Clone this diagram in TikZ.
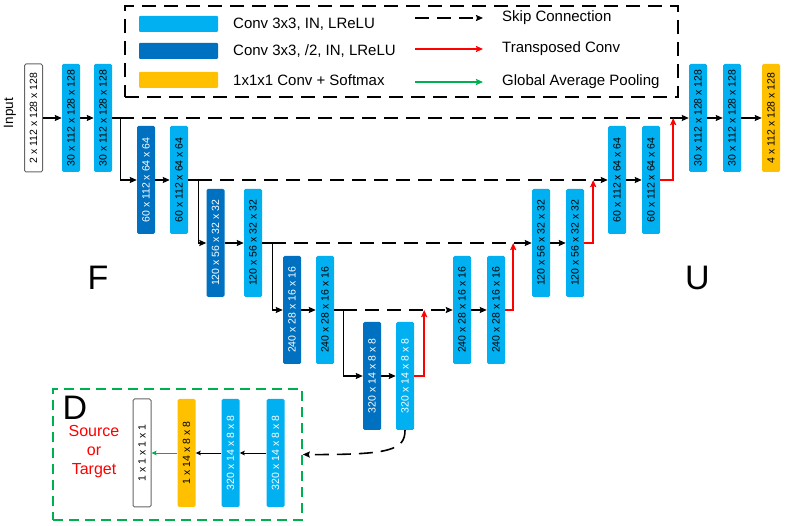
\documentclass[tikz,border=0pt]{standalone}
\usepackage{fontspec}
\setmainfont{Liberation Sans}
\usepackage{graphicx}
\usetikzlibrary{arrows.meta}
\tikzstyle{every picture}=[>={Stealth[length=7pt,width=6pt,inset=1pt]},x=1pt,y=-1pt]
\definecolor{convlight}{RGB}{0,176,240}
\definecolor{convdark}{RGB}{0,112,192}
\definecolor{softyel}{RGB}{255,192,0}
\definecolor{poolgreen}{RGB}{0,176,80}
\definecolor{upred}{RGB}{255,0,0}
\newcommand{\sidetxt}[1]{\rotatebox{90}{#1}}
\tikzset{
  blk/.style={rectangle,rounded corners=1.5pt,minimum width=18pt,minimum height=108pt,
    inner sep=0pt,font=\fontsize{10.5}{12}\selectfont},
  lconv/.style={blk,fill=convlight},
  dconv/.style={blk,fill=convdark,text=white},
  soft/.style={blk,fill=softyel},
  inbox/.style={blk,draw=black!60,fill=white,line width=1pt},
  flow/.style={->,line width=1.4pt},
  skip/.style={->,line width=1.6pt,dash pattern=on 14pt off 8pt},
  upconv/.style={->,line width=1.6pt,upred},
  dflow/.style={-{Stealth[length=5pt,width=4.5pt,inset=0.8pt]},line width=0.8pt},
  swatch/.style={rectangle,rounded corners=1pt,minimum width=79pt,minimum height=16pt,inner sep=0pt},
  legtext/.style={anchor=west,inner sep=0pt,font=\fontsize{15}{18}\selectfont},
  bigletter/.style={inner sep=0pt,font=\fontsize{34}{38}\selectfont}
}

\begin{document}
\begin{tikzpicture}
    \useasboundingbox (0,0) rectangle (785,526);

    % legend
    \node[draw,line width=1.6pt,dash pattern=on 14pt off 8pt,minimum width=553pt,minimum height=91pt] (leg) at (401.5,51.5) {};
    \node[swatch,fill=convlight] (sw1) at (178.5,24) {};
    \node[swatch,fill=convdark] (sw2) at (178.5,51) {};
    \node[swatch,fill=softyel] (sw3) at (178.5,80) {};
    \node[legtext] (lt1) at (233,24) {Conv 3x3, IN, LReLU};
    \node[legtext] (lt2) at (233,51) {Conv 3x3, /2, IN, LReLU};
    \node[legtext] (lt3) at (233,80) {1x1x1 Conv + Softmax};
    \coordinate (la1) at (415,18);  \coordinate (lb1) at (483,18);
    \coordinate (la2) at (415,49);  \coordinate (lb2) at (483,49);
    \coordinate (la3) at (415,82);  \coordinate (lb3) at (483,82);
    \draw[skip] (la1) -- (lb1);
    \draw[upconv] (la2) -- (lb2);
    \draw[->,line width=1.6pt,poolgreen] (la3) -- (lb3);
    \node[legtext] (lt4) at (502,18) {Skip Connection};
    \node[legtext] (lt5) at (502,49) {Transposed Conv};
    \node[legtext] (lt6) at (502,82) {Global Average Pooling};

    % encoder
    \node[font=\fontsize{13.5}{16}\selectfont] (inlbl) at (10,113) {\sidetxt{Input}};
    \node[inbox] (inp) at (33.5,118) {\sidetxt{2 x 112 x 128 x 128}};
    \node[lconv] (e1a) at (71,118) {\sidetxt{30 x 112 x 128 x 128}};
    \node[lconv] (e1b) at (103,118) {\sidetxt{30 x 112 x 128 x 128}};
    \node[dconv] (e2a) at (146,180) {\sidetxt{60 x 112 x 64 x 64}};
    \node[lconv] (e2b) at (179,180) {\sidetxt{60 x 112 x 64 x 64}};
    \node[dconv] (e3a) at (215.5,243) {\sidetxt{120 x 56 x 32 x 32}};
    \node[lconv] (e3b) at (253,243) {\sidetxt{120 x 56 x 32 x 32}};
    \node[dconv] (e4a) at (292,310) {\sidetxt{240 x 28 x 16 x 16}};
    \node[lconv] (e4b) at (325,310) {\sidetxt{240 x 28 x 16 x 16}};
    \node[dconv] (e5a) at (372,376) {\sidetxt{320 x 14 x 8 x 8}};
    \node[lconv,text=white] (e5b) at (405,376) {\sidetxt{320 x 14 x 8 x 8}};

    % decoder
    \node[lconv] (d4a) at (462,310) {\sidetxt{240 x 28 x 16 x 16}};
    \node[lconv] (d4b) at (496,310) {\sidetxt{240 x 28 x 16 x 16}};
    \node[lconv] (d3a) at (541,243) {\sidetxt{120 x 56 x 32 x 32}};
    \node[lconv] (d3b) at (575,243) {\sidetxt{120 x 56 x 32 x 32}};
    \node[lconv] (d2a) at (617,180) {\sidetxt{60 x 112 x 64 x 64}};
    \node[lconv] (d2b) at (651,180) {\sidetxt{60 x 112 x 64 x 64}};
    \node[lconv] (d1a) at (698,118) {\sidetxt{30 x 112 x 128 x 128}};
    \node[lconv] (d1b) at (732,118) {\sidetxt{30 x 112 x 128 x 128}};
    \node[soft] (outp) at (771,118) {\sidetxt{4 x 112 x 128 x 128}};

    \node[bigletter] (flbl) at (98,277.5) {F};
    \node[bigletter] (ulbl) at (697.5,277.5) {U};

    % down path and skips
    \draw[flow] (inp) -- (e1a);
    \draw[flow] (e1a) -- (e1b);
    \draw[flow] (e1b.east) -- ++(8,0) coordinate (j1) |- (e2a.west);
    \draw[skip] (j1) -- (d1a.west);
    \draw[flow] (e2a) -- (e2b);
    \draw[flow] (e2b.east) -- ++(10,0) coordinate (j2) |- (e3a.west);
    \draw[skip] (j2) -- (d2a.west);
    \draw[flow] (e3a) -- (e3b);
    \draw[flow] (e3b.east) -- ++(10,0) coordinate (j3) |- (e4a.west);
    \draw[skip] (j3) -- (d3a.west);
    \draw[flow] (e4a) -- (e4b);
    \draw[flow] (e4b.east) -- ++(9,0) coordinate (j4) |- (e5a.west);
    \draw[skip] (j4) -- (d4a.west);
    \draw[flow] (e5a) -- (e5b);

    % up path
    \path (e5b.east) ++(10,0) coordinate (u4);
    \path (d4b.east) ++(8,0) coordinate (u3);
    \path (d3b.east) ++(9,0) coordinate (u2);
    \path (d2b.east) ++(13,0) coordinate (u1);
    \draw[upconv] (e5b.east) -| (u4 |- d4a.west);
    \draw[upconv] (d4b.east) -| (u3 |- d3a.west);
    \draw[upconv] (d3b.east) -| (u2 |- d2a.west);
    \draw[upconv] (d2b.east) -| (u1 |- d1a.west);
    \draw[flow] (d4a) -- (d4b);
    \draw[flow] (d3a) -- (d3b);
    \draw[flow] (d2a) -- (d2b);
    \draw[flow] (d1a) -- (d1b);
    \draw[flow] (d1b) -- (outp);

    % discriminator
    \node[draw=poolgreen,line width=1.6pt,dash pattern=on 10pt off 6pt,minimum width=249pt,minimum height=131pt] (dbox) at (177.5,454.5) {};
    \node[bigletter] (dlbl) at (75,407.5) {D};
    \node[align=center,text=upred,font=\fontsize{16}{19}\selectfont,inner sep=0pt] (src) at (94,452) {Source\\or\\Target};
    \node[inbox] (dc) at (142,453) {\sidetxt{1 x 1 x 1 x 1}};
    \node[soft] (dy) at (186.5,453) {\sidetxt{1 x 14 x 8 x 8}};
    \node[lconv,text=white] (dl2) at (230.5,453) {\sidetxt{320 x 14 x 8 x 8}};
    \node[lconv,text=white] (dl1) at (275.5,453) {\sidetxt{320 x 14 x 8 x 8}};
    \draw[dflow] (dl1) -- (dl2);
    \draw[dflow] (dl2) -- (dy);
    \draw[dflow,poolgreen] (dy) -- (dc);
    \draw[skip] (e5b.south) .. controls (405,450) and (390,455) .. (dbox.east);
\end{tikzpicture}
\end{document}
